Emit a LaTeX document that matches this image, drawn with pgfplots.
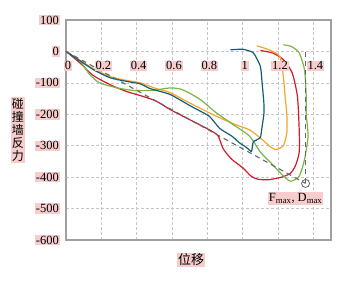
\documentclass[border=0pt]{standalone}
\usepackage{pgfplots}
\pgfplotsset{compat=1.18}
\usepackage{fontspec}
\setmainfont{Liberation Serif}
\newfontfamily\cjk{Noto Sans CJK SC}
\definecolor{pinkbg}{RGB}{246,204,204}
\definecolor{cred}{RGB}{210,25,45}
\definecolor{cblue}{RGB}{18,92,120}
\definecolor{corange}{RGB}{245,165,40}
\definecolor{cgreen}{RGB}{120,182,70}
\definecolor{cframe}{RGB}{160,160,160}
\begin{document}
\begin{tikzpicture}[x=1pt,y=1pt]
\useasboundingbox (0,0) rectangle (350,282);
\begin{axis}[
  at={(66pt,42pt)}, anchor=south west,
  scale only axis, width=265pt, height=220pt,
  xmin=0, xmax=1.5, ymin=-600, ymax=100,
  xtick={0,0.2,0.4,0.6,0.8,1,1.2,1.4},
  xticklabels={},
  ytick={-600,-500,-400,-300,-200,-100,0,100},
  yticklabels={{-600},{-500},{-400},{-300},{-200},{-100},{0},{100}},
  yticklabel style={font=\fontsize{12.5}{13}\selectfont, fill=pinkbg, inner sep=1pt, xshift=-6pt},
  major tick length=0pt,
  grid=major,
  grid style={densely dashed, gray!45, line width=0.6pt},
  axis line style={cframe, line width=1.1pt},
  clip=false,
]
\addplot[cred, line width=1.2pt, smooth, tension=0.4] coordinates {
(0,0) (0.08,-37) (0.15,-75) (0.25,-106) (0.34,-127) (0.435,-143) (0.51,-158) (0.59,-185) (0.70,-217) (0.81,-249) (0.86,-268) (0.89,-310) (0.94,-344) (1.0,-370) (1.05,-398) (1.09,-407) (1.15,-408) (1.22,-400) (1.27,-388) (1.30,-362) (1.32,-320) (1.32,-250) (1.31,-143) (1.28,-68) (1.23,-26) (1.17,-5) (1.10,3)};
\addplot[corange, line width=1.2pt, smooth, tension=0.4] coordinates {
(0,0) (0.155,-55) (0.25,-80) (0.34,-92) (0.42,-100) (0.51,-118) (0.59,-131) (0.70,-164) (0.85,-206) (0.96,-233) (1.04,-250) (1.11,-280) (1.16,-305) (1.19,-312) (1.23,-300) (1.25,-259) (1.25,-200) (1.24,-143) (1.23,-79) (1.21,-16) (1.15,5) (1.08,18)};
\addplot[cgreen, line width=1.2pt, smooth, tension=0.4] coordinates {
(0,0) (0.08,-32) (0.135,-74) (0.19,-100) (0.29,-116) (0.38,-124) (0.49,-124) (0.59,-116) (0.66,-122) (0.76,-153) (0.85,-195) (0.96,-238) (1.04,-270) (1.10,-320) (1.15,-349) (1.22,-390) (1.27,-413) (1.32,-397) (1.35,-344) (1.37,-270) (1.36,-200) (1.36,-143) (1.35,-58) (1.32,-5) (1.275,16) (1.23,21)};
\addplot[cblue, line width=1.2pt, smooth, tension=0.3] coordinates {
(0,0) (0.155,-58) (0.25,-84) (0.34,-95) (0.42,-103) (0.475,-118) (0.59,-137) (0.70,-172) (0.81,-206) (0.87,-245) (0.94,-270) (0.98,-290) (1.02,-305) (1.05,-318) (1.06,-288) (1.10,-274) (1.11,-239) (1.12,-200) (1.12,-164) (1.11,-100) (1.10,-47) (1.06,-4) (1.0,7) (0.93,5)};
\addplot[gray!80!black, line width=1.1pt, dashed, dash pattern=on 5pt off 4pt] coordinates {(0,0) (1.356,-420)};
\addplot[gray!80!black, line width=1.1pt, dashed, dash pattern=on 5pt off 4pt] coordinates {(1.356,-420) (1.356,0)};
\addplot[gray!80!black, only marks, mark=o, mark size=4pt, mark options={fill=white, line width=0.8pt}] coordinates {(1.356,-420)};
\foreach \v/\t in {0/0,0.2/0.2,0.4/0.4,0.6/0.6,0.8/0.8,1/1,1.2/1.2,1.4/1.4}{
  \edef\tmp{\noexpand\node[fill=pinkbg, inner sep=1pt, font=\noexpand\fontsize{12.5}{13}\noexpand\selectfont, anchor=north, yshift=-9pt, xshift=2pt] at (axis cs:\v,0) {\t};}
  \tmp
}
\node[fill=pinkbg, inner sep=1pt, font=\fontsize{12.5}{13}\selectfont] at (axis cs:1.30,-468) {F$_{\mathrm{max}}$, D$_{\mathrm{max}}$};
\end{axis}
\node[fill=pinkbg, inner sep=1pt, font=\cjk\fontsize{13}{14}\selectfont] at (191,22) {位移};
\node[fill=pinkbg, inner sep=1pt, font=\cjk\fontsize{12}{13}\selectfont, align=center] at (18,152) {碰\\撞\\墙\\反\\力};
\end{tikzpicture}
\end{document}
